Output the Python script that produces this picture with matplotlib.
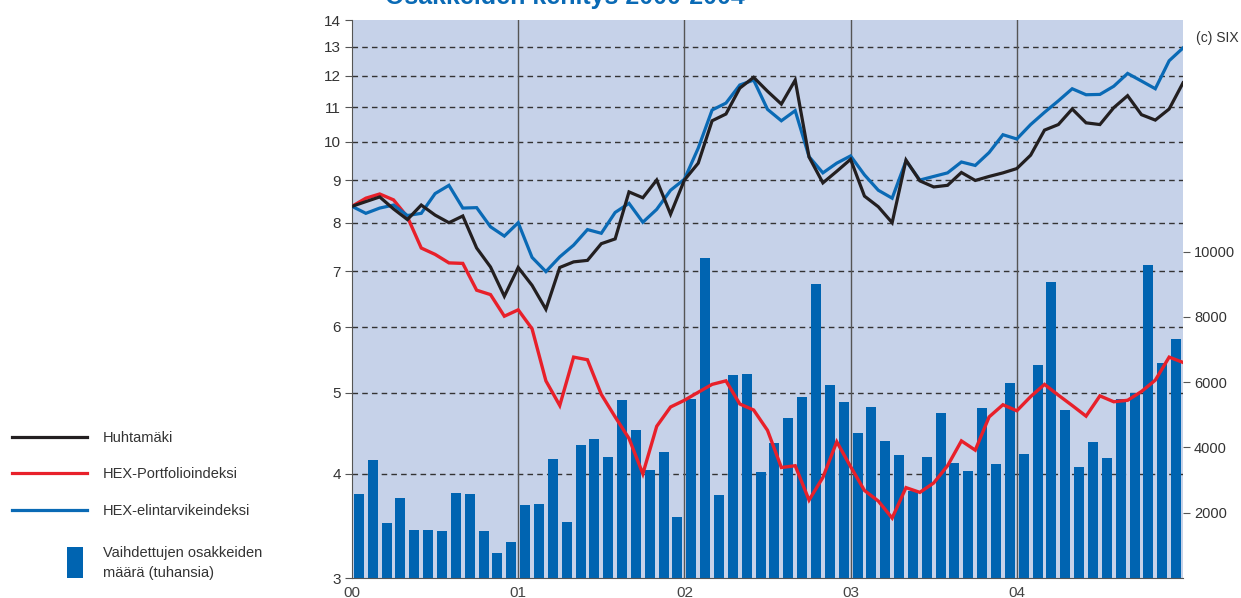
import numpy as np
import matplotlib
matplotlib.use("Agg")
import matplotlib.pyplot as plt
from matplotlib.lines import Line2D
from matplotlib.patches import Rectangle

plt.rcParams['font.family'] = ['Liberation Sans Narrow', 'Liberation Sans', 'DejaVu Sans']

# Monthly values 2000-2004 (61 month-end points, 60 monthly volumes)
huhtamaki = [8.37, 8.48, 8.59, 8.31, 8.07, 8.40, 8.17, 8.00, 8.15, 7.46, 7.08, 6.53, 7.07,
             6.73, 6.30, 7.07, 7.18, 7.21, 7.55, 7.65, 8.71, 8.57, 9.00, 8.19, 9.00,
             9.43, 10.60, 10.80, 11.60, 11.95, 11.50, 11.10, 11.86, 9.59, 8.93, 9.22, 9.53,
             8.61, 8.36, 8.00, 9.51, 8.98, 8.83, 8.87, 9.19, 8.99, 9.09, 9.18, 9.29,
             9.64, 10.33, 10.49, 10.95, 10.54, 10.49, 10.99, 11.36, 10.78, 10.62, 10.95, 11.77]

hex_portfolio = [8.37, 8.56, 8.66, 8.52, 8.13, 7.46, 7.33, 7.16, 7.15, 6.64, 6.56, 6.18, 6.29,
                 5.97, 5.17, 4.83, 5.52, 5.48, 4.98, 4.68, 4.41, 4.00, 4.56, 4.81, 4.90,
                 5.01, 5.12, 5.17, 4.85, 4.77, 4.51, 4.07, 4.09, 3.72, 3.96, 4.37, 4.08,
                 3.82, 3.71, 3.54, 3.85, 3.80, 3.90, 4.09, 4.38, 4.27, 4.68, 4.84, 4.76,
                 4.95, 5.12, 4.97, 4.83, 4.69, 4.96, 4.88, 4.90, 5.02, 5.18, 5.52, 5.44]

hex_food = [8.37, 8.21, 8.33, 8.40, 8.16, 8.21, 8.67, 8.87, 8.33, 8.34, 7.91, 7.71, 8.00,
            7.27, 6.99, 7.28, 7.52, 7.85, 7.77, 8.23, 8.44, 8.01, 8.30, 8.75, 9.02,
            9.83, 10.92, 11.13, 11.70, 11.86, 10.94, 10.60, 10.90, 9.60, 9.18, 9.43, 9.62,
            9.13, 8.75, 8.56, 9.49, 9.00, 9.09, 9.18, 9.46, 9.37, 9.71, 10.20, 10.08,
            10.49, 10.85, 11.20, 11.58, 11.39, 11.40, 11.66, 12.08, 11.83, 11.58, 12.51, 12.96]

volume = [2580, 3630, 1700, 2460, 1480, 1480, 1440, 2610, 2580, 1440, 780, 1110,
          2240, 2280, 3660, 1730, 4080, 4270, 3710, 5460, 4550, 3310, 3860, 1880,
          5490, 9820, 2540, 6220, 6250, 3240, 4130, 4900, 5550, 9010, 5920, 5390,
          4440, 5240, 4190, 3770, 2660, 3710, 5050, 3520, 3270, 5210, 3490, 5990,
          3800, 6520, 9070, 5150, 3390, 4180, 3670, 5480, 5670, 9590, 6590, 7330]

year_labels = ['00', '01', '02', '03', '04']
left_ticks = [3, 4, 5, 6, 7, 8, 9, 10, 11, 12, 13, 14]
right_ticks = [2000, 4000, 6000, 8000, 10000]

BLACK = '#231f20'
RED = '#e8202a'
BLUE = '#0a6ab5'
BAR = '#0064b1'
BG = '#c6d2e9'

fig = plt.figure(figsize=(12.41, 5.98), dpi=100)
ax = fig.add_axes([352 / 1241, 20 / 598, 831 / 1241, 558 / 598])
ax2 = ax.twinx()
ax.set_zorder(ax2.get_zorder() + 1)
ax.patch.set_visible(False)
ax2.patch.set_visible(True)
ax2.patch.set_facecolor(BG)

n_months = len(volume)
months = np.arange(len(huhtamaki))

# log axis for prices
ax.set_yscale('log')
ax.set_ylim(3, 14)
ax.set_xlim(0, n_months)
ax.set_yticks(left_ticks)
ax.set_yticklabels([str(t) for t in left_ticks])
ax.yaxis.set_minor_locator(matplotlib.ticker.NullLocator())
ax.set_xticks(np.arange(0, n_months, 12))
ax.set_xticklabels(year_labels)

# grid drawn on the bar axes so it stays behind the bars
for v in left_ticks[1:-1]:
    ax2.plot([0, n_months], [v, v], transform=ax.transData, color='#333333',
             lw=1.0, ls=(0, (4, 3)), zorder=0.5)
for x in range(12, n_months, 12):
    ax2.axvline(x, color='#555555', lw=1.0, zorder=0.6)

# volume bars
ax2.bar(np.arange(n_months) + 0.5, volume, width=0.72, color=BAR, zorder=1)
ax2.set_ylim(0, 17100)
ax2.set_xlim(0, n_months)
ax2.set_yticks(right_ticks)
ax2.set_yticklabels([str(t) for t in right_ticks])

# lines
ax.plot(months, hex_portfolio, color=RED, lw=2.4, solid_joinstyle='miter', zorder=3)
ax.plot(months, hex_food, color=BLUE, lw=2.3, solid_joinstyle='miter', zorder=4)
ax.plot(months, huhtamaki, color=BLACK, lw=2.3, solid_joinstyle='miter', zorder=5)

for a in (ax, ax2):
    for side in ('top', 'right', 'left', 'bottom'):
        a.spines[side].set_visible(False)
ax.spines['left'].set_visible(True)
ax.spines['left'].set_color('#555555')
ax.spines['bottom'].set_visible(True)
ax.spines['bottom'].set_color('#555555')

ax.tick_params(axis='y', which='major', direction='out', length=5, width=0.8,
               colors='#555555', labelcolor='#333333', labelsize=11, pad=3)
ax.tick_params(axis='x', length=0, labelcolor='#444444', labelsize=11, pad=6)
ax2.tick_params(axis='y', direction='out', length=5, width=0.8,
                colors='#555555', labelcolor='#333333', labelsize=10.5, pad=3)

# legend built by hand on the left
legend_lines = [(437, BLACK, 'Huhtamäki'),
                (473, RED, 'HEX-Portfolioindeksi'),
                (510, BLUE, 'HEX-elintarvikeindeksi')]
for ypx, col, lab in legend_lines:
    yf = 1 - ypx / 598
    fig.add_artist(Line2D([12 / 1241, 87 / 1241], [yf, yf], color=col, lw=2.3,
                          transform=fig.transFigure))
    fig.text(103 / 1241, 1 - (ypx + 1) / 598, lab, fontsize=10.5, color='#333333',
             va='center', ha='left')
fig.add_artist(Rectangle((67 / 1241, 1 - 578 / 598), 16 / 1241, 31 / 598,
                         facecolor=BAR, edgecolor='none', transform=fig.transFigure))
fig.text(103 / 1241, 1 - 563 / 598, 'Vaihdettujen osakkeiden\nmäärä (tuhansia)',
         fontsize=10.5, color='#333333', va='center', ha='left', linespacing=1.5)

fig.text(1239 / 1241, 1 - 38 / 598, '(c) SIX', fontsize=10, color='#333333',
         va='center', ha='right')

# title, mostly cut off by the top edge as in the source
fig.text(385 / 1241, 1 - 4 / 598, 'Osakkeiden kehitys 2000-2004', fontsize=18,
         fontweight='bold', color='#0a6ab5', va='baseline', ha='left')

fig.savefig('out.png', dpi=100)
